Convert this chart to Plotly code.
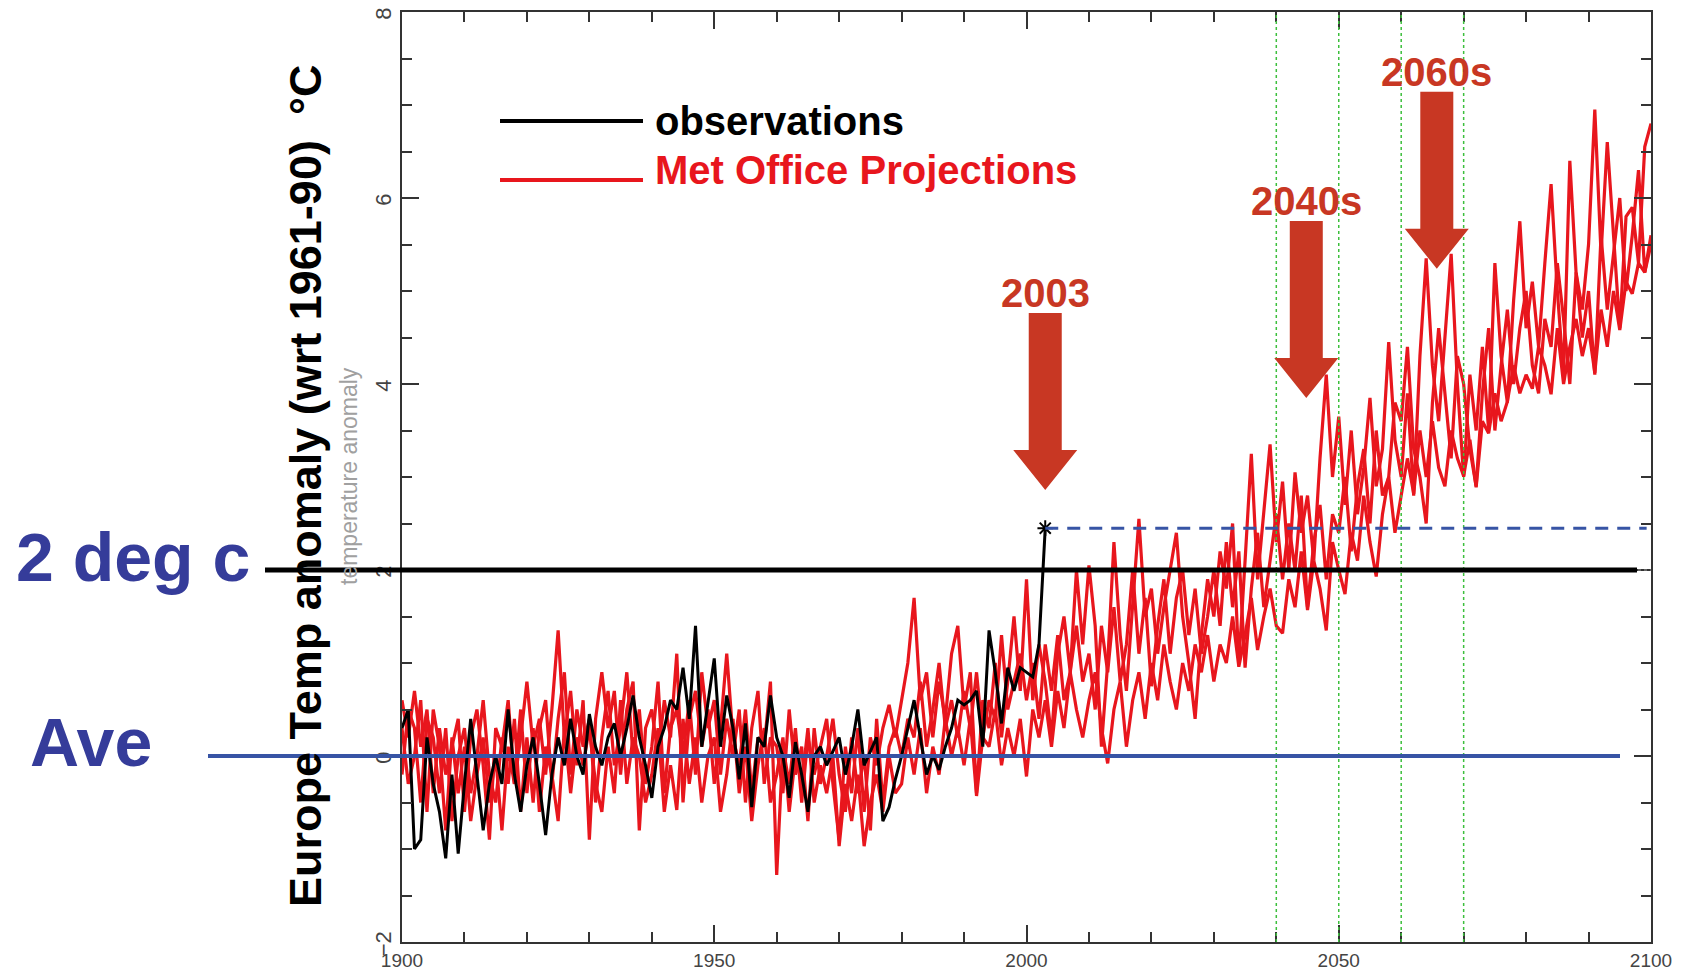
import plotly.graph_objects as go

# Observações (anomalia de temperatura na Europa, wrt 1961-90)
obs_anos = list(range(1900, 2004))
obs = [
    0.3, 0.5, -1.0, -0.9, 0.2, -0.3, -0.6, -1.1, -0.2, -1.05,
    -0.3, 0.4, -0.2, -0.8, -0.3, 0.0, -0.3, 0.5, -0.2, -0.6,
    -0.1, 0.2, -0.3, -0.85, -0.2, 0.2, -0.1, 0.4, 0.0, -0.2,
    0.45, 0.1, -0.1, 0.2, 0.35, 0.0, 0.3, 0.65, 0.2, -0.1,
    -0.45, 0.1, 0.3, 0.6, 0.5, 0.95, 0.4, 1.4, 0.1, 0.6,
    1.05, 0.1, 0.65, 0.3, -0.25, 0.35, -0.55, 0.2, 0.1, 0.65,
    0.2, 0.0, -0.45, 0.15, -0.2, -0.6, 0.0, 0.1, -0.1, 0.05,
    0.2, -0.2, 0.1, 0.5, -0.1, 0.05, 0.2, -0.7, -0.55, -0.25,
    0.0, 0.3, 0.6, 0.2, -0.2, 0.0, -0.15, 0.1, 0.3, 0.6,
    0.55, 0.6, 0.7, 0.1, 1.35, 0.9, 0.35, 0.95, 0.7, 0.95,
    0.9, 0.85, 1.2, 2.45,
]

# Projeções do Met Office (3 membros), 1900-2100
proj_anos = list(range(1900, 2101))
proj_1 = [
    0.6, 0.2, 0.7, 0.1, 0.5, -0.4, 0.3, -0.2, 0.1, 0.4,
    -0.6, 0.2, 0.5, -0.1, -0.9, 0.3, 0.1, 0.6, -0.3, 0.2,
    0.8, 0.1, 0.4, -0.2, 0.5, 1.35, 0.2, 0.7, -0.1, 0.6,
    -0.9, 0.4, 0.9, 0.3, 0.7, -0.2, 0.5, 0.8, -0.8, 0.3,
    0.5, 0.0, 0.6, 0.2, 1.1, -0.5, 0.4, 0.7, 0.1, 0.5,
    -0.3, 0.3, 1.1, 0.2, -0.1, 0.5, -0.4, 0.2, 0.1, 0.8,
    -1.28, 0.1, -0.3, 0.3, -0.5, 0.2, -0.2, 0.1, 0.4, -0.3,
    -0.9, 0.1, -0.4, 0.3, -0.6, 0.2, -0.1, 0.3, 0.55, 0.2,
    0.6, 1.0, 1.7, 0.6, 0.9, 0.2, 0.8, 0.4, 1.1, 1.4,
    0.5, 0.9, -0.4, 0.6, 0.3, 1.0, 0.2, 0.8, 1.5, 0.7,
    1.9, 0.6, 1.2, 0.8, 0.2, 1.1, 1.5, 0.9, 2.0, 1.2,
    2.05, 1.4, 0.1, 1.0, 2.3, 1.3, 0.7, 1.6, 2.55, 1.5,
    1.8, 1.1, 1.6, 2.0, 2.4, 1.5, 1.0, 0.4, 1.3, 1.9,
    1.5, 2.2, 1.8, 2.5, 1.0, 2.1, 3.25, 1.9, 2.6, 3.35,
    2.3, 2.95, 2.0, 3.05, 2.4, 2.8, 2.1, 3.2, 4.1, 3.0,
    3.65, 2.7, 3.5, 2.6, 3.1, 3.85, 2.9, 3.3, 4.45, 3.4,
    3.0, 3.9, 2.8, 4.3, 5.35, 4.2, 3.6, 4.5, 5.4, 4.0,
    3.0, 4.1, 3.5, 4.4, 3.5, 5.3, 4.3, 3.8, 4.9, 5.75,
    4.6, 5.1, 4.4, 5.3, 6.15, 5.0, 4.1, 6.4, 5.2, 4.8,
    5.5, 6.95, 5.4, 6.6, 5.6, 4.6, 5.8, 5.9, 5.3, 6.55,
    6.8,
]
proj_2 = [
    -0.2, 0.5, 0.3, -0.5, 0.4, 0.2, -0.4, 0.3, -0.7, 0.0,
    0.3, -0.4, 0.0, 0.6, -0.2, -0.5, 0.2, -0.3, 0.4, -0.6,
    0.2, -0.5, 0.3, 0.6, -0.3, 0.4, 0.9, -0.2, 0.5, 0.1,
    0.4, -0.5, 0.2, 0.7, -0.1, 0.3, 0.9, 0.0, 0.5, -0.3,
    0.1, 0.8, -0.4, 0.3, 0.5, 0.0, 0.6, -0.2, 0.9, 0.3,
    0.6, -0.2, 0.4, 0.0, 0.5, -0.5, 0.3, 0.7, -0.3, 0.2,
    0.1, -0.4, 0.5, -0.2, 0.1, -0.7, 0.3, -0.3, 0.0, 0.4,
    -0.2, -0.6, 0.2, -0.4, 0.0, -0.8, 0.4, -0.5, 0.1, 0.3,
    0.0, 0.4, 0.2, 0.8, 0.1, 0.5, 1.0, 0.3, 0.6, 0.2,
    0.7, 0.3, 0.9, 0.2, 0.6, 0.4, 1.3, 0.5, 0.8, 1.1,
    0.6, 1.0, 0.4, 1.2, 0.7, 1.3, 0.6, 0.9, 1.4, 0.8,
    1.1, 0.5, 1.4, 0.9, 1.6, 0.8, 1.2, 2.0, 1.1, 1.7,
    0.75, 1.4, 1.9, 1.1, 1.7, 2.0, 1.3, 1.8, 1.1, 1.5,
    2.0, 1.4, 2.3, 1.6, 2.2, 0.95, 1.8, 2.4, 1.6, 2.1,
    2.6, 1.9, 2.5, 2.0, 2.8, 1.6, 2.3, 2.7, 1.9, 2.6,
    2.4, 3.0, 2.2, 2.9, 3.3, 2.5, 3.5, 2.8, 3.0, 3.8,
    3.6, 4.4, 3.3, 3.0, 2.5, 3.8, 4.6, 3.9, 3.2, 4.3,
    4.0, 3.3, 2.9, 3.9, 4.6, 3.5, 4.2, 4.8, 4.0, 4.6,
    5.0, 4.2, 3.9, 4.7, 4.4, 5.3, 4.7, 4.0, 5.2, 4.5,
    5.0, 4.1, 5.6, 4.8, 5.4, 6.0, 5.0, 5.6, 6.3, 5.2,
    5.6,
]
proj_3 = [
    0.3, -0.3, 0.0, 0.6, -0.6, 0.5, 0.1, -0.8, 0.2, -0.4,
    0.1, -0.7, -0.2, 0.2, -0.5, 0.0, -0.8, 0.1, -0.3, 0.5,
    -0.4, 0.3, -0.6, 0.1, -0.2, -0.7, 0.3, -0.4, 0.2, -0.1,
    0.3, -0.3, -0.6, 0.1, -0.4, 0.6, -0.3, 0.2, 0.0, -0.5,
    -0.2, 0.3, -0.6, -0.1, -0.58, 0.4, -0.3, 0.2, -0.5, 0.0,
    0.2, -0.6, -0.2, 0.4, -0.4, 0.1, -0.7, -0.1, 0.3, -0.5,
    -0.2, 0.2, -0.6, 0.0, -0.3, 0.3, -0.5, -0.1, -0.4, 0.0,
    -0.97, -0.3, -0.7, -0.2, -0.97, -0.5, -0.2, -0.6, 0.0, -0.4,
    -0.3, 0.2, -0.2, 0.3, -0.4, 0.1, -0.2, 0.4, 0.0, 0.3,
    -0.1, 0.4, -0.43, 0.2, 0.1, 0.5, -0.1, 0.3, 0.0, 0.4,
    -0.22, 0.5, 0.2, 0.6, 0.1, 0.7, 0.3, 0.9, 0.5, 0.2,
    0.6, 0.9, 0.3, -0.08, 0.5, 0.8, 0.1, 0.6, 0.9, 0.4,
    1.0, 0.6, 1.2, 0.8, 0.5, 1.0, 0.7, 1.2, 0.9, 1.3,
    0.8, 1.2, 1.0, 1.5, 0.96, 1.3, 1.7, 1.14, 1.5, 1.8,
    1.4, 1.32, 1.9, 1.6, 2.2, 1.57, 2.1, 1.8, 1.35, 2.3,
    2.0, 1.74, 2.4, 2.1, 2.8, 2.3, 1.93, 2.6, 3.0, 2.4,
    2.8, 3.2, 2.82, 3.5, 3.0, 3.6, 3.1, 2.9, 3.5, 3.2,
    3.01, 3.4, 2.89, 3.6, 3.47, 3.9, 3.6, 3.81, 4.2, 3.9,
    4.1, 3.95, 4.4, 4.2, 3.89, 4.6, 4.0, 4.4, 4.7, 4.3,
    4.6, 4.12, 4.8, 4.4, 5.0, 4.58, 5.1, 4.97, 5.3, 5.2,
    5.5,
]

# Marcos e rótulos
decadas = [2040, 2050, 2060, 2070]
limite_2graus = 2.0
media = 0.0
setas_anos = [2003, 2044.8, 2065.7]
setas_topo = [2.86, 3.85, 5.24]
setas_texto = ["2003", "2040s", "2060s"]

FONTE = "Liberation Sans, Arial, sans-serif"
VERMELHO = "#E8161D"
SETA = "#C83723"
AZUL = "#353C9A"

# a página tem margem de 8px no body: figura menor e coordenadas deslocadas
OFF = 8
W, H = 1694 - 2 * OFF, 979 - 2 * OFF
# área do gráfico em pixels da página
L, R, T, B = 402, 1651, 12, 942


def px_x(p):
    return (p - L) / (R - L)


def px_y(p):
    return (B - p) / (B - T)


fig = go.Figure()

for serie in [proj_1, proj_2, proj_3]:
    fig.add_trace(go.Scatter(
        x=proj_anos, y=serie, mode="lines",
        line=dict(color=VERMELHO, width=3.2),
        showlegend=False, hoverinfo="skip",
    ))

fig.add_trace(go.Scatter(
    x=obs_anos, y=obs, mode="lines",
    line=dict(color="black", width=3),
    showlegend=False,
))
fig.add_trace(go.Scatter(
    x=[obs_anos[-1]], y=[obs[-1]], mode="markers",
    marker=dict(symbol="asterisk-open", size=13, color="black", line=dict(width=2, color="black")),
    showlegend=False,
))

# linhas verticais das décadas
for d in decadas:
    fig.add_vline(x=d, line=dict(color="#3CBF3C", width=1.5, dash="dot"))

# linha pontilhada original em 2
fig.add_shape(type="line", xref="x", yref="y", x0=1900, x1=2100,
              y0=limite_2graus, y1=limite_2graus,
              line=dict(color="#999999", width=1, dash="dot"))

# linha preta "2 deg c"
fig.add_shape(type="line", xref="paper", yref="y", x0=px_x(265), x1=px_x(1637),
              y0=limite_2graus, y1=limite_2graus,
              line=dict(color="black", width=5))

# linha azul "Ave"
fig.add_shape(type="line", xref="paper", yref="y", x0=px_x(208), x1=px_x(1620),
              y0=media, y1=media,
              line=dict(color="#3754A5", width=4))

# linha azul tracejada no nível de 2003
fig.add_shape(type="line", xref="x", yref="y", x0=obs_anos[-1], x1=2099.3,
              y0=obs[-1], y1=obs[-1],
              line=dict(color="#3754A5", width=3, dash="13px,9px"))

# setas vermelhas
for xa, ya, txt in zip(setas_anos, setas_topo, setas_texto):
    fig.add_shape(
        type="path", xref="x", yref="y",
        xsizemode="pixel", ysizemode="pixel", xanchor=xa, yanchor=ya,
        path="M0,0 L-32,40 L-16.5,40 L-16.5,177 L16.5,177 L16.5,40 L32,40 Z",
        fillcolor=SETA, line=dict(width=0),
    )
    fig.add_annotation(
        x=xa, y=ya, xref="x", yref="y", text=txt, showarrow=False,
        yshift=197, xanchor="center", yanchor="middle",
        font=dict(family=FONTE, size=40, color=SETA, weight="bold"),
    )

# legenda manual
fig.add_shape(type="line", xref="paper", yref="paper", x0=px_x(500), x1=px_x(643),
              y0=px_y(121), y1=px_y(121), line=dict(color="black", width=4))
fig.add_shape(type="line", xref="paper", yref="paper", x0=px_x(500), x1=px_x(643),
              y0=px_y(180), y1=px_y(180), line=dict(color=VERMELHO, width=4))
fig.add_annotation(x=px_x(653), y=px_y(121), xref="paper", yref="paper",
                   text="observations", showarrow=False, xanchor="left", yanchor="middle",
                   font=dict(family=FONTE, size=40, color="black", weight="bold"))
fig.add_annotation(x=px_x(653), y=px_y(170), xref="paper", yref="paper",
                   text="Met Office Projections", showarrow=False, xanchor="left", yanchor="middle",
                   font=dict(family=FONTE, size=40, color=VERMELHO, weight="bold"))

# rótulos à esquerda
fig.add_annotation(x=px_x(14), y=limite_2graus, xref="paper", yref="y", yshift=13,
                   text="2 deg c", showarrow=False, xanchor="left", yanchor="middle",
                   font=dict(family=FONTE, size=68, color=AZUL, weight="bold"))
fig.add_annotation(x=px_x(28), y=media, xref="paper", yref="y", yshift=14,
                   text="Ave", showarrow=False, xanchor="left", yanchor="middle",
                   font=dict(family=FONTE, size=68, color=AZUL, weight="bold"))

# título do eixo y
fig.add_annotation(x=px_x(305), y=px_y(486), xref="paper", yref="paper",
                   text="Europe Temp anomaly (wrt 1961-90)  °C", textangle=-90,
                   showarrow=False, xanchor="center", yanchor="middle",
                   font=dict(family=FONTE, size=45, color="black", weight="bold"))
fig.add_annotation(x=px_x(349), y=px_y(476), xref="paper", yref="paper",
                   text="temperature anomaly", textangle=-90,
                   showarrow=False, xanchor="center", yanchor="middle",
                   font=dict(family=FONTE, size=23, color="#A0A0A0"))

fig.update_xaxes(
    range=[1900, 2100], tickvals=[1900, 1950, 2000, 2050, 2100], automargin=False,
    ticklabeloverflow="allow",
    ticks="inside", ticklen=17, tickwidth=1.5, tickcolor="#333333",
    minor=dict(dtick=10, ticks="inside", ticklen=10, tickwidth=1.5, tickcolor="#333333", showgrid=False),
    showline=True, linecolor="#333333", linewidth=2, mirror="ticks",
    showgrid=False, zeroline=False,
    tickfont=dict(family=FONTE, size=19, color="#444444"),
)
fig.update_yaxes(
    range=[-2, 8], tickvals=[-2, 0, 2, 4, 6, 8], tickangle=-90, automargin=False,
    ticklabelshift=5, ticklabeloverflow="allow",
    ticks="inside", ticklen=17, tickwidth=1.5, tickcolor="#333333",
    minor=dict(dtick=0.5, ticks="inside", ticklen=10, tickwidth=1.5, tickcolor="#333333", showgrid=False),
    showline=True, linecolor="#333333", linewidth=2, mirror="ticks",
    showgrid=False, zeroline=False,
    tickfont=dict(family=FONTE, size=22, color="#444444"),
)

fig.update_layout(
    width=W, height=H,
    margin=dict(l=L - OFF, r=W - (R - OFF), t=T - OFF, b=H - (B - OFF)),
    plot_bgcolor="white", paper_bgcolor="white",
    showlegend=False,
)

fig.write_html("out.html")
